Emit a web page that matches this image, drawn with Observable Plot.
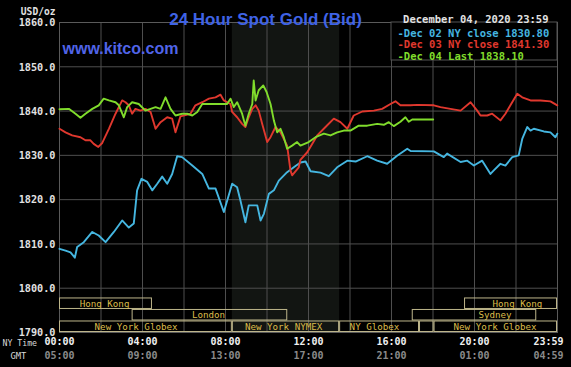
<!DOCTYPE html>
<html>
<head>
<meta charset="utf-8">
<script src="https://cdn.jsdelivr.net/npm/d3@7"></script>
<script src="https://cdn.jsdelivr.net/npm/@observablehq/plot@0.6"></script>
<style>
  html, body { margin: 0; padding: 0; background: #000; }
  svg { display: block; }
</style>
</head>
<body>
<div id="chart"></div>
<script>
// ---- Data (NY time in hours, price USD/oz) ----
const dec02 = [[0,1808.9],[0.29,1808.5],[0.53,1808.1],[0.74,1806.9],[0.85,1809.3],[1.17,1810.4],[1.58,1812.7],[1.89,1811.9],[2.22,1810.4],[2.62,1812.7],[3.02,1815.3],[3.34,1813.7],[3.58,1814.6],[3.74,1822.1],[3.95,1824.7],[4.23,1824.0],[4.47,1822.1],[4.71,1823.6],[4.95,1825.2],[5.19,1823.6],[5.43,1825.8],[5.67,1829.8],[5.91,1829.6],[6.40,1827.7],[6.88,1825.8],[7.20,1822.5],[7.52,1822.5],[7.92,1817.2],[8.32,1823.6],[8.56,1822.8],[8.72,1819.8],[8.96,1814.9],[9.12,1818.7],[9.53,1818.7],[9.69,1815.3],[9.85,1816.8],[10.09,1821.3],[10.33,1822.1],[10.57,1824.3],[10.97,1826.2],[11.29,1827.3],[11.61,1828.4],[11.86,1828.6],[12.10,1826.4],[12.58,1826.1],[12.98,1825.3],[13.38,1827.3],[13.87,1828.8],[14.27,1828.6],[14.83,1829.8],[15.31,1828.8],[15.79,1828.1],[16.27,1829.9],[16.76,1831.5],[16.92,1831.0],[18.04,1830.9],[18.52,1829.6],[18.68,1830.4],[19.33,1828.5],[19.65,1828.8],[19.97,1827.7],[20.37,1828.8],[20.77,1825.8],[20.93,1826.6],[21.25,1828.1],[21.49,1827.7],[21.82,1829.6],[22.13,1830.0],[22.30,1833.7],[22.54,1836.4],[22.70,1835.6],[22.86,1836.0],[23.34,1835.4],[23.66,1835.2],[23.90,1834.1],[23.99,1834.9]];

const dec03 = [[0,1836.0],[0.29,1835.2],[0.61,1834.5],[1.01,1834.1],[1.25,1833.4],[1.49,1833.4],[1.65,1832.6],[1.87,1831.9],[2.06,1832.8],[2.38,1836.0],[2.70,1839.4],[3.02,1842.4],[3.18,1842.0],[3.34,1841.3],[3.50,1839.4],[3.66,1840.5],[3.90,1840.1],[4.14,1840.5],[4.39,1839.8],[4.63,1836.0],[4.87,1837.5],[5.19,1838.6],[5.43,1838.3],[5.59,1835.2],[5.83,1838.8],[6.31,1839.4],[6.55,1841.3],[6.88,1842.0],[7.20,1842.8],[7.52,1843.1],[7.76,1843.7],[7.92,1842.4],[8.24,1841.6],[8.32,1839.8],[8.56,1838.6],[8.80,1837.1],[8.96,1836.4],[9.12,1838.6],[9.29,1840.5],[9.45,1841.3],[9.60,1840.1],[9.77,1837.1],[10.01,1833.0],[10.17,1834.1],[10.41,1836.4],[10.65,1835.2],[10.97,1832.2],[11.13,1826.6],[11.21,1825.5],[11.53,1827.3],[11.61,1829.0],[11.94,1830.7],[12.42,1834.5],[12.82,1836.4],[13.22,1838.3],[13.54,1837.5],[13.87,1836.0],[14.18,1839.0],[14.59,1839.9],[15.15,1840.1],[15.55,1840.5],[15.95,1841.6],[16.19,1842.2],[16.43,1841.3],[16.92,1841.3],[17.24,1841.4],[18.04,1841.3],[18.36,1840.9],[18.84,1840.5],[19.33,1840.1],[19.81,1842.0],[20.13,1840.1],[20.29,1839.0],[20.61,1839.0],[20.85,1839.4],[21.25,1837.9],[21.49,1839.4],[21.73,1841.3],[22.06,1843.9],[22.30,1843.1],[22.70,1842.4],[23.18,1842.4],[23.66,1842.2],[23.99,1841.3]];

const dec04 = [[0,1840.4],[0.45,1840.5],[0.77,1839.4],[1.01,1838.5],[1.25,1839.4],[1.58,1840.5],[1.89,1841.3],[2.13,1842.8],[2.38,1842.4],[2.70,1842.0],[2.86,1841.3],[3.10,1838.6],[3.26,1840.9],[3.50,1842.0],[3.82,1841.6],[4.14,1840.1],[4.39,1840.5],[4.63,1840.9],[4.87,1840.5],[5.11,1843.1],[5.35,1840.5],[5.59,1839.0],[5.91,1839.4],[6.15,1839.4],[6.40,1839.0],[6.64,1839.8],[6.88,1841.6],[7.28,1841.6],[7.76,1841.6],[8.08,1841.6],[8.24,1842.8],[8.40,1840.9],[8.56,1842.0],[8.80,1839.4],[8.96,1836.7],[9.12,1839.4],[9.29,1841.6],[9.36,1846.9],[9.45,1842.4],[9.60,1844.7],[9.82,1845.8],[9.98,1844.3],[10.17,1841.6],[10.33,1837.9],[10.49,1835.2],[10.65,1836.0],[10.81,1834.1],[10.97,1831.5],[11.21,1832.2],[11.45,1833.0],[11.61,1832.2],[12.01,1833.0],[12.34,1834.1],[12.74,1834.9],[13.06,1834.5],[13.38,1835.2],[13.70,1835.6],[14.02,1835.6],[14.42,1836.7],[14.83,1836.7],[15.31,1837.1],[15.63,1836.9],[15.87,1837.5],[16.11,1836.6],[16.43,1837.6],[16.67,1838.6],[16.83,1837.6],[17.00,1838.1],[18.01,1838.1]];

const seriesNames = ["Dec 02", "Dec 03", "Dec 04"];
const seriesColors = ["#45b6e0", "#e0382e", "#80dc2c"];
const legendLabels = ["-Dec 02 NY close 1830.80", "-Dec 03 NY close 1841.30", "-Dec 04 Last 1838.10"];

const yTicks = [1860, 1850, 1840, 1830, 1820, 1810, 1800, 1790];
const yGrid = [1800, 1810, 1820, 1830, 1840, 1850];
const xGrid = [2, 4, 6, 8, 10, 12, 14, 16, 18, 20, 22];
const xTickHours = [0, 4, 8, 12, 16, 20, 24];
const nyTimeLabels = ["00:00", "04:00", "08:00", "12:00", "16:00", "20:00", "23:59"];
const gmtLabels = ["05:00", "09:00", "13:00", "17:00", "21:00", "01:00", "04:59"];

// NY trading session shading (hours)
const session = [{start: 8.33, end: 13.5}];

// market session bands: row 0 top, row 2 bottom
const bands = [
  {row: 0, start: 0,     end: 4.48,  name: "Hong Kong",       labelAt: 2.17},
  {row: 0, start: 19.52, end: 24,    name: "Hong Kong",       labelAt: 22.07},
  {row: 1, start: 3.5,   end: 11.0,  name: "London",          labelAt: 7.18},
  {row: 1, start: 17.0,  end: 23.0,  name: "Sydney",          labelAt: 20.99},
  {row: 2, start: 0,     end: 8.33,  name: "New York Globex", labelAt: 3.69},
  {row: 2, start: 8.33,  end: 13.5,  name: "New York NYMEX",  labelAt: 10.8},
  {row: 2, start: 13.5,  end: 17.35, name: "NY Globex",       labelAt: 15.18},
  {row: 2, start: 17.35, end: 18.05, name: "",                labelAt: 17.7},
  {row: 2, start: 18.05, end: 24,    name: "New York Globex", labelAt: 20.99}
];
const bandRowEdges = [1797.8, 1795.2, 1792.6, 1790];

// ---- build tables ----
const table = [dec02, dec03, dec04].flatMap((s, i) =>
  s.map(([h, v]) => ({series: seriesNames[i], h, v})));
const xTicksTable = xTickHours.map((h, i) => ({h, ny: nyTimeLabels[i], gmt: gmtLabels[i]}));

const mono = "DejaVu Sans Mono, monospace";
const sans = "Liberation Sans, Arial, sans-serif";

const legendBox = (index, scales, values, dims) => {
  const r = d3.create("svg:rect")
    .attr("x", dims.width - dims.marginRight - 166)
    .attr("y", dims.marginTop)
    .attr("width", 166)
    .attr("height", 38)
    .attr("fill", "#000")
    .attr("stroke", "#555")
    .attr("stroke-width", 1);
  return r.node();
};

const chart = Plot.plot({
  width: 571,
  height: 367,
  marginLeft: 59,
  marginRight: 14,
  marginTop: 22,
  marginBottom: 35,
  style: {background: "#000", fontFamily: mono, overflow: "visible"},
  x: {domain: [0, 24], axis: null},
  y: {domain: [1790, 1860], axis: null},
  marks: [
    Plot.rect(session, {x1: "start", x2: "end", fill: "#121512"}),
    Plot.ruleX(xGrid, {stroke: "#4e4e4e", strokeWidth: 1}),
    Plot.ruleY(yGrid, {stroke: "#4e4e4e", strokeWidth: 1}),
    Plot.frame({stroke: "#5a5a5a"}),
    Plot.rect(bands, {
      x1: "start", x2: "end",
      y1: d => bandRowEdges[d.row], y2: d => bandRowEdges[d.row + 1],
      fill: "none", stroke: "#bdb58a", strokeWidth: 1, insetLeft: 0.5, insetRight: 0.5, insetTop: 0.5, insetBottom: 0.5
    }),
    Plot.text(bands, {
      x: "labelAt", y: d => (bandRowEdges[d.row] + bandRowEdges[d.row + 1]) / 2,
      text: "name", fill: "#dcbc4a", fontSize: 9.2, fontFamily: mono
    }),
    ...[dec02, dec03, dec04].map((s, i) =>
      Plot.line(table.filter(d => d.series === seriesNames[i]), {
        x: "h", y: "v", stroke: seriesColors[i], strokeWidth: 1.9, strokeLinejoin: "round"
      })),
    legendBox,
    ...legendLabels.map((label, i) =>
      Plot.text([label], {
        frameAnchor: "top-right", dx: -160, dy: 7 + i * 11.5, textAnchor: "start", text: d => d,
        fill: seriesColors[i], fontSize: 10.5, fontWeight: "bold", fontFamily: mono
      })),
    // y tick labels
    Plot.text(yTicks, {
      y: d => d, frameAnchor: "left", dx: -4, dy: 0.5, textAnchor: "end",
      text: d => d3.format(".1f")(d), fill: "#e2e2e2", fontSize: 10.2, fontWeight: "bold", fontFamily: mono
    }),
    Plot.text(["USD/oz"], {
      frameAnchor: "top-left", dx: -4, dy: -14, textAnchor: "end", text: d => d,
      fill: "#e2e2e2", fontSize: 9.6, fontWeight: "bold", fontFamily: mono
    }),
    // x tick labels
    Plot.text(xTicksTable.slice(0, -1), {
      x: "h", frameAnchor: "bottom", dy: 12.5, textAnchor: "middle", text: "ny", fill: "#f0f0f0",
      fontSize: 10, fontWeight: "bold", fontFamily: mono
    }),
    Plot.text(xTicksTable.slice(-1), {
      x: "h", frameAnchor: "bottom", dy: 12.5, dx: 6, textAnchor: "end", text: "ny", fill: "#f0f0f0",
      fontSize: 10, fontWeight: "bold", fontFamily: mono
    }),
    Plot.text(xTicksTable.slice(0, -1), {
      x: "h", frameAnchor: "bottom", dy: 26, textAnchor: "middle", text: "gmt", fill: "#8a8a8a",
      fontSize: 10, fontWeight: "bold", fontFamily: mono
    }),
    Plot.text(xTicksTable.slice(-1), {
      x: "h", frameAnchor: "bottom", dy: 26, dx: 6, textAnchor: "end", text: "gmt", fill: "#8a8a8a",
      fontSize: 10, fontWeight: "bold", fontFamily: mono
    }),
    Plot.text(["NY Time"], {
      frameAnchor: "bottom-left", dx: -57, dy: 13, textAnchor: "start", text: d => d,
      fill: "#d8d8d8", fontSize: 8.2, fontFamily: mono
    }),
    Plot.text(["GMT"], {
      frameAnchor: "bottom-left", dx: -49, dy: 26, textAnchor: "start", text: d => d,
      fill: "#d8d8d8", fontSize: 8.8, fontFamily: mono
    }),
    // titles
    Plot.text(["24 Hour Spot Gold (Bid)"], {
      frameAnchor: "top-left", dx: 206, dy: -10, textAnchor: "middle", text: d => d,
      fill: "#3f63e6", fontSize: 17, fontWeight: "bold", fontFamily: sans
    }),
    Plot.text(["www.kitco.com"], {
      frameAnchor: "top-left", dx: 3, dy: 20, textAnchor: "start", text: d => d,
      fill: "#5064e8", fontSize: 16, fontWeight: "bold", fontFamily: sans
    }),
    Plot.text(["December 04, 2020 23:59"], {
      frameAnchor: "top-right", dx: -9, dy: -7, textAnchor: "end", text: d => d,
      fill: "#e2e2e2", fontSize: 10.5, fontWeight: "bold", fontFamily: mono
    })
  ]
});

document.getElementById("chart").appendChild(chart);
</script>
</body>
</html>
